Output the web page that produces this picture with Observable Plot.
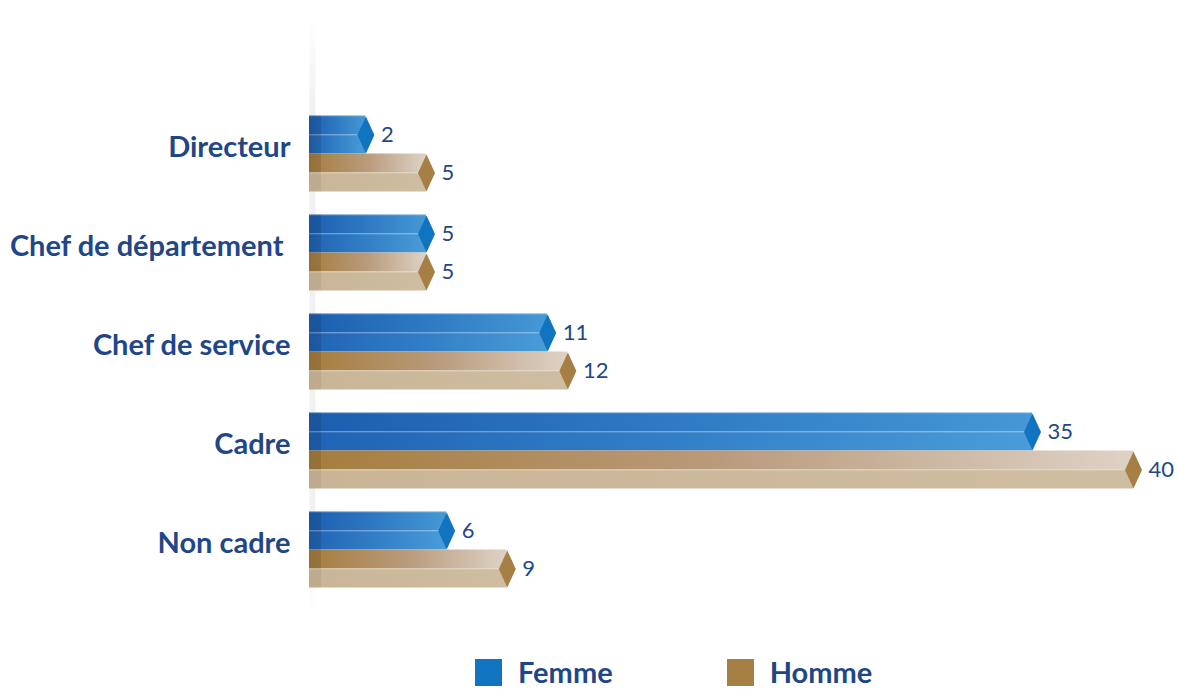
<!DOCTYPE html>
<html><head><meta charset="utf-8">
<script src="https://cdn.jsdelivr.net/npm/d3@7"></script>
<script src="https://cdn.jsdelivr.net/npm/@observablehq/plot@0.6"></script>
<style>
body{margin:0;background:#fff;font-family:Lato, "Open Sans", sans-serif;overflow:hidden;}
#legend{display:flex;align-items:center;padding-top:9px;padding-left:475px;font-weight:bold;font-size:29px;color:#1f4788;line-height:30px;}
.sw{width:27px;height:27px;margin-right:16px;flex:none;}
.item{display:flex;align-items:center;}
</style></head><body>
<div id="chart"></div>
<div id="legend"></div>
<script>
const categories = ["Directeur", "Chef de département ", "Chef de service", "Cadre", "Non cadre"];
const femme = [2, 5, 11, 35, 6];
const homme = [5, 5, 12, 40, 9];
const seriesNames = ["Femme", "Homme"];
const seriesColors = ["#1174c0", "#a67f45"];

const F = categories.map((c, i) => ({cat: c, series: seriesNames[0], value: femme[i]}));
const H = categories.map((c, i) => ({cat: c, series: seriesNames[1], value: homme[i]}));

const navy = "#1f4788";
const tallDiamond = {draw(ctx) { ctx.moveTo(0, -18.5); ctx.lineTo(8.5, 0); ctx.lineTo(0, 18.5); ctx.lineTo(-8.5, 0); ctx.closePath(); }};

const plot = Plot.plot({
  width: 1178, height: 648,
  marginLeft: 325, marginRight: 45, marginTop: 103.5, marginBottom: 49.5,
  x: {domain: [0, 40], axis: null},
  y: {domain: categories, padding: 0, axis: null},
  style: {fontFamily: "Lato, 'Open Sans', sans-serif", background: "#fff"},
  marks: [
    Plot.ruleX([0], {dx: -13, stroke: "url(#gShadow)", strokeWidth: 6, insetTop: -88, insetBottom: -16}),
    // Femme bar, two faces
    Plot.barX(F, {x: "value", y: "cat", insetLeft: -16, insetTop: 11.5, insetBottom: 68.5, fill: "url(#gBlue)"}),
    Plot.barX(F, {x: "value", y: "cat", insetLeft: -16, insetTop: 30.5, insetBottom: 49.5, fill: "url(#gBlue2)"}),
    Plot.barX(F, {x: "value", y: "cat", insetLeft: -16, insetTop: 11.5, insetBottom: 86.5, fill: "#ffffff", fillOpacity: 0.22}),
    Plot.barX(F, {x: "value", y: "cat", insetLeft: -16, insetTop: 30.5, insetBottom: 67.5, fill: "#ffffff", fillOpacity: 0.25}),
    // Homme bar, two faces
    Plot.barX(H, {x: "value", y: "cat", insetLeft: -16, insetTop: 49.5, insetBottom: 30.5, fill: "url(#gGold)"}),
    Plot.barX(H, {x: "value", y: "cat", insetLeft: -16, insetTop: 68.5, insetBottom: 11.5, fill: "url(#gGold2)"}),
    Plot.barX(H, {x: "value", y: "cat", insetLeft: -16, insetTop: 68.5, insetBottom: 29.5, fill: "#ffffff", fillOpacity: 0.3}),
    // darker base strip
    Plot.barX(F, {x1: 0, x2: 0, y: "cat", insetLeft: -16, insetRight: 4, insetTop: 11.5, insetBottom: 49.5, fill: "#000", fillOpacity: 0.1}),
    Plot.barX(H, {x1: 0, x2: 0, y: "cat", insetLeft: -16, insetRight: 4, insetTop: 49.5, insetBottom: 30.5, fill: "#000", fillOpacity: 0.1}),
    Plot.barX(H, {x1: 0, x2: 0, y: "cat", insetLeft: -16, insetRight: 4, insetTop: 68.5, insetBottom: 11.5, fill: "#000", fillOpacity: 0.05}),
    // tips
    Plot.dot(F, {x: "value", y: "cat", dy: -19, symbol: tallDiamond, r: 5, fill: seriesColors[0], stroke: null}),
    Plot.dot(H, {x: "value", y: "cat", dy: 19, symbol: tallDiamond, r: 5, fill: seriesColors[1], stroke: null}),
    // value labels
    Plot.text(F, {x: "value", y: "cat", dy: -19, dx: 15, text: d => String(d.value), textAnchor: "start", fontSize: 22, fill: navy}),
    Plot.text(H, {x: "value", y: "cat", dy: 19, dx: 15, text: d => String(d.value), textAnchor: "start", fontSize: 22, fill: navy}),
    // category labels
    Plot.text(categories, {x: 0, y: d => d, text: d => d, textAnchor: "end", dx: -35, dy: -6, fontSize: 29, fontWeight: "bold", fill: navy})
  ]
});

const defs = `<defs>
<linearGradient id="gShadow" gradientUnits="userSpaceOnUse" x1="0" x2="0" y1="15" y2="615"><stop offset="0" stop-color="#ffffff"/><stop offset="0.15" stop-color="#f1f1f1"/><stop offset="0.85" stop-color="#f1f1f1"/><stop offset="1" stop-color="#ffffff"/></linearGradient>
<linearGradient id="gBlue" x1="0" x2="1" y1="0" y2="0"><stop offset="0" stop-color="#1c5eaf"/><stop offset="0.5" stop-color="#2f7ac3"/><stop offset="1" stop-color="#4598d5"/></linearGradient>
<linearGradient id="gBlue2" x1="0" x2="1" y1="0" y2="0"><stop offset="0" stop-color="#2063b4"/><stop offset="0.5" stop-color="#337fc7"/><stop offset="1" stop-color="#4a9cd8"/></linearGradient>
<linearGradient id="gGold" x1="0" x2="1" y1="0" y2="0"><stop offset="0" stop-color="#a67d3e"/><stop offset="0.5" stop-color="#b99b7c"/><stop offset="1" stop-color="#ded2c6"/></linearGradient>
<linearGradient id="gGold2" x1="0" x2="1" y1="0" y2="0"><stop offset="0" stop-color="#c9b596"/><stop offset="1" stop-color="#cfbda1"/></linearGradient>
</defs>`;
plot.insertAdjacentHTML("afterbegin", defs);
document.getElementById("chart").appendChild(plot);

const legend = document.getElementById("legend");
seriesNames.forEach((s, i) => {
  const it = document.createElement("div");
  it.className = "item";
  it.style.marginRight = i === 0 ? "114px" : "0";
  it.innerHTML = `<div class="sw" style="background:${seriesColors[i]}"></div><span>${s}</span>`;
  legend.appendChild(it);
});
</script>
</body></html>
